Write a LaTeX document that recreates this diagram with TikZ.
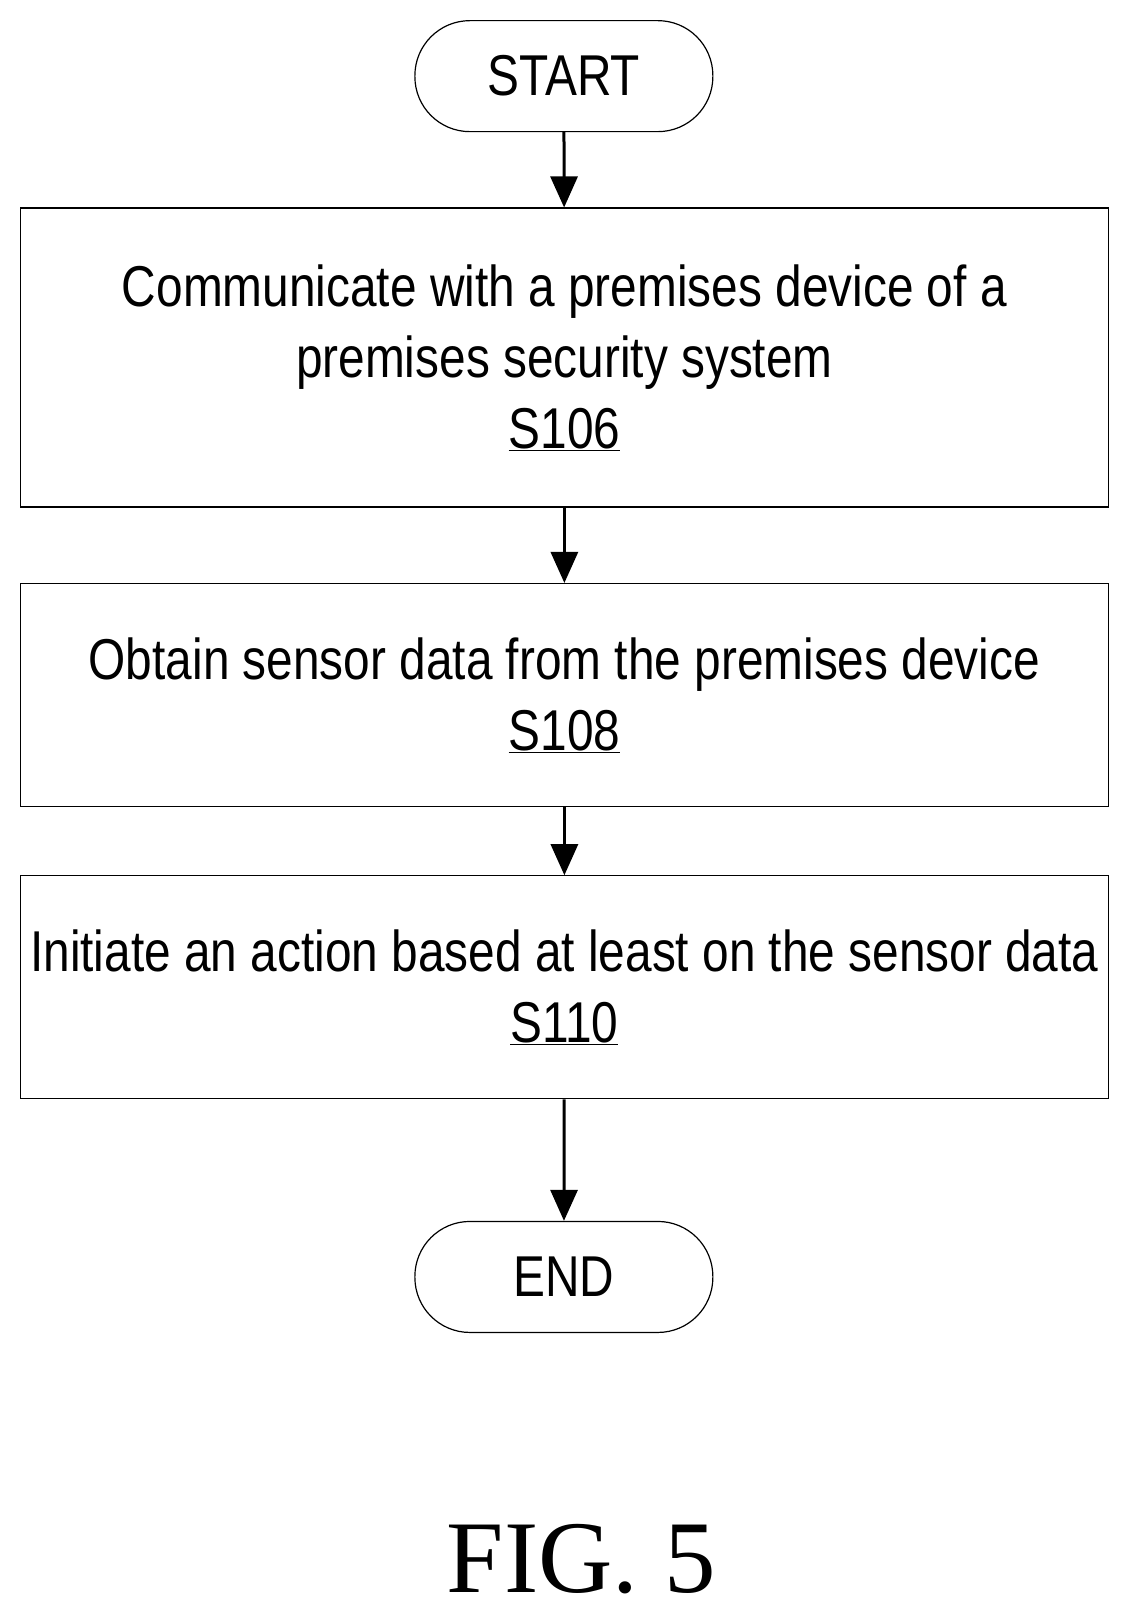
\documentclass[tikz,border=0pt]{standalone}
\usepackage{fontspec}
\setmainfont{Liberation Sans}[FakeStretch=0.83]
\newfontfamily\figfont{Liberation Serif}
\usetikzlibrary{arrows.meta}
\begin{document}
\begin{tikzpicture}[x=1.029pt,y=-1.029pt,
  term/.style={draw,line width=1.2pt,rounded corners=55pt,minimum width=298pt,minimum height=111pt,font=\fontsize{57.6}{71}\selectfont},
  box/.style={draw,line width=1.2pt,minimum width=1088pt,align=center,font=\fontsize{57.6}{71}\selectfont,inner sep=0pt},
  arr/.style={line width=3pt,-{Triangle[width=27pt,length=31pt]}}]
\useasboundingbox (0,0) rectangle (1096,1567.6);
\node[term] (start) at (548,74) {START};
\node[box,minimum height=299pt] (b1) at (548.5,347.5) {Communicate with a premises device of a\\premises security system\\\underline{S106}};
\node[box,minimum height=223pt] (b2) at (548.5,675.5) {Obtain sensor data from the premises device\\\underline{S108}};
\node[box,minimum height=223pt] (b3) at (548.5,959.5) {Initiate an action based at least on the sensor data\\\underline{S110}};
\node[term] (end) at (548,1241) {END};
\draw[arr] (start) -- (b1);
\draw[arr] (b1) -- (b2);
\draw[arr] (b2) -- (b3);
\draw[arr] (b3) -- (end);
\node[font=\figfont\fontsize{103}{103}\selectfont] (fig) at (565,1515) {FIG. 5};
\end{tikzpicture}
\end{document}
